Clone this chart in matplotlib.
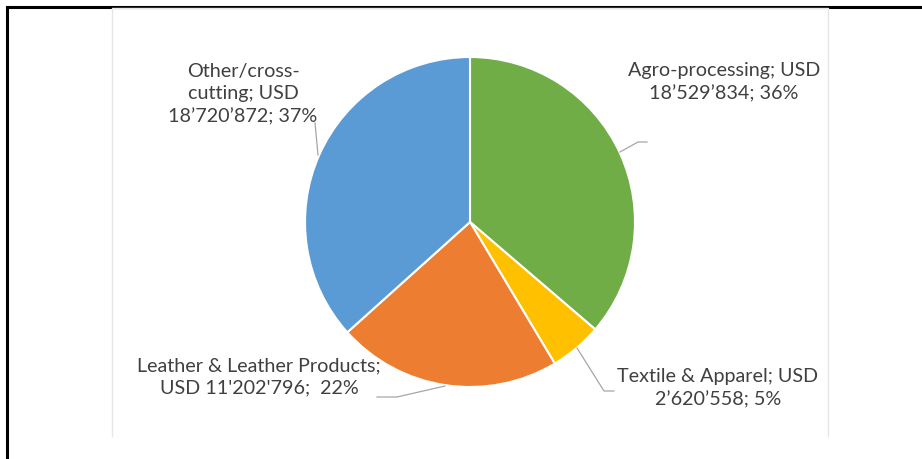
import matplotlib.pyplot as plt

# sector funding (USD)
sectors = ['Agro-processing', 'Textile & Apparel', 'Leather & Leather Products', 'Other/cross-cutting']
amounts = [18529834, 2620558, 11202796, 18720872]
colors = ['#70AD47', '#FFC000', '#ED7D31', '#5B9BD5']
labels = [
    'Agro-processing; USD\n18\u2019529\u2019834; 36%',
    'Textile & Apparel; USD\n2\u2019620\u2019558; 5%',
    "Leather & Leather Products;\nUSD 11'202'796;  22%",
    'Other/cross-\ncutting; USD\n18\u2019720\u2019872; 37%',
]

W, H = 922, 459


def Y(py):
    # pixel row (from top) -> data y
    return H - py


fig = plt.figure(figsize=(W / 100, H / 100), dpi=100)
ax = fig.add_axes([0, 0, 1, 1])

ax.pie(amounts, colors=colors, startangle=90, counterclock=False,
       center=(470, Y(222)), radius=165,
       wedgeprops=dict(edgecolor='white', linewidth=1.5))
ax.set_xlim(0, W)
ax.set_ylim(0, H)
ax.set_aspect('equal')
ax.axis('off')

# outer document frame and inner chart area
ax.plot([6.5, 6.5], [Y(459), Y(6.5)], color='black', lw=2.2)
ax.plot([6.5, W], [Y(6.5), Y(6.5)], color='black', lw=2.2)
ax.plot([112, 112, 828, 828], [Y(436), Y(8), Y(8), Y(436)], color='#E6E6E6', lw=1)

# data labels with leader lines
lab_pos = [(724, 82), (718, 388), (259, 377), (243, 94)]
leaders = [
    [(620, 152), (638, 142), (647, 142)],
    [(577, 348), (604, 391), (614, 391)],
    [(445, 386), (397, 397), (377, 397)],
    [(318, 155), (315, 123)],
]
for lab, (px, py), pts in zip(labels, lab_pos, leaders):
    ax.text(px, Y(py), lab, ha='center', va='center', fontsize=14.2,
            family='Lato', color='#404040', linespacing=1.38)
    ax.plot([p[0] for p in pts], [Y(p[1]) for p in pts], color='#A6A6A6', lw=0.9)

plt.savefig('out.png', dpi=100)
